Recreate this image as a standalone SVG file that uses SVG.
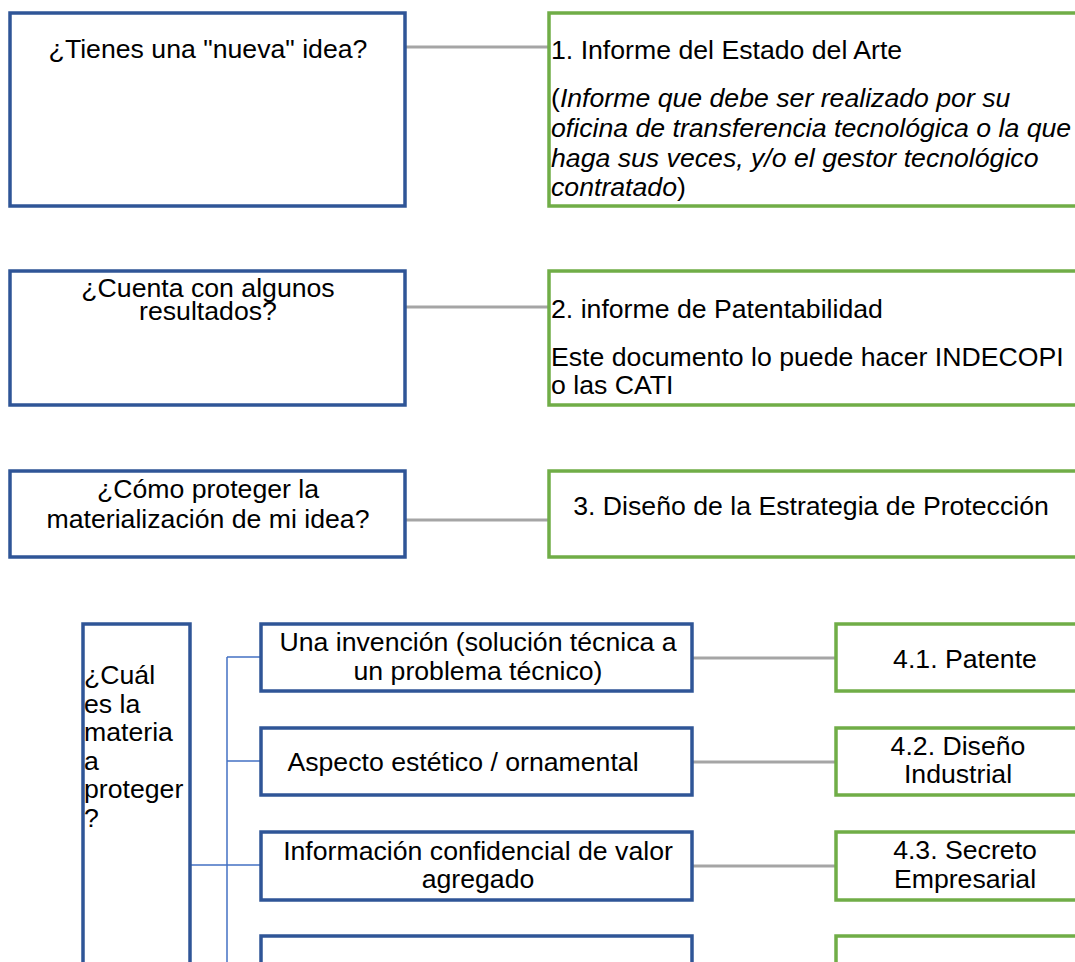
<svg xmlns="http://www.w3.org/2000/svg" width="1075" height="962" viewBox="0 0 1075 962">
<style>
.q{fill:#fff;stroke:#2F5597;stroke-width:3.5}
.a{fill:#fff;stroke:#70AD47;stroke-width:3.5}
.g{stroke:#A5A5A5;stroke-width:3;fill:none}
.b{stroke:#4472C4;stroke-width:1.5;fill:none}
text{font-family:"Liberation Sans",Arial,sans-serif;font-size:26.67px;fill:#000}
.c{text-anchor:middle}
.i{font-style:italic}
</style>
<rect width="1075" height="962" fill="#fff"/>
<g id="connectors">
<line class="g" x1="405" y1="47" x2="549" y2="47"/>
<line class="g" x1="405" y1="307" x2="549" y2="307"/>
<line class="g" x1="405" y1="520" x2="549" y2="520"/>
<line class="g" x1="692" y1="658" x2="836" y2="658"/>
<line class="g" x1="692" y1="762" x2="836" y2="762"/>
<line class="g" x1="692" y1="866" x2="836" y2="866"/>
<path class="b" d="M227,657 V962 M227,657 H261 M227,761 H261 M190,865 H261"/>
</g>
<g id="q1"><rect class="q" x="10" y="13" width="395" height="193"/>
<text class="c" x="208" y="58">¿Tienes una "nueva" idea?</text></g>
<g id="a1"><rect class="a" x="549" y="13" width="560" height="193"/>
<text x="551" y="59">1. Informe del Estado del Arte</text>
<text x="551" y="107">(<tspan class="i">Informe que debe ser realizado por su</tspan></text>
<text x="551" y="137" class="i">oficina de transferencia tecnológica o la que</text>
<text x="551" y="167" class="i">haga sus veces, y/o el gestor tecnológico</text>
<text x="551" y="196"><tspan class="i">contratado</tspan>)</text></g>
<g id="q2"><rect class="q" x="10" y="271" width="395" height="134"/>
<text class="c" x="208" y="297">¿Cuenta con algunos</text>
<text class="c" x="208" y="320">resultados?</text></g>
<g id="a2"><rect class="a" x="549" y="271" width="560" height="134"/>
<text x="551" y="318">2. informe de Patentabilidad</text>
<text x="551" y="366">Este documento lo puede hacer INDECOPI</text>
<text x="551" y="394">o las CATI</text></g>
<g id="q3"><rect class="q" x="10" y="471" width="395" height="86"/>
<text class="c" x="208" y="498">¿Cómo proteger la</text>
<text class="c" x="208" y="528">materialización de mi idea?</text></g>
<g id="a3"><rect class="a" x="549" y="471" width="560" height="86"/>
<text class="c" x="811" y="515">3. Diseño de la Estrategia de Protección</text></g>
<g id="q4"><rect class="q" x="83" y="624" width="107" height="420"/>
<text x="84" y="684">¿Cuál</text>
<text x="84" y="712.5">es la</text>
<text x="84" y="741">materia</text>
<text x="84" y="769.5">a</text>
<text x="84" y="798">proteger</text>
<text x="84" y="826.5">?</text></g>
<g id="m1"><rect class="q" x="261" y="624" width="431" height="67"/>
<text class="c" x="478" y="651">Una invención (solución técnica a</text>
<text class="c" x="478" y="680">un problema técnico)</text></g>
<g id="m2"><rect class="q" x="261" y="728" width="431" height="67"/>
<text class="c" x="463" y="771">Aspecto estético / ornamental</text></g>
<g id="m3"><rect class="q" x="261" y="832" width="431" height="68"/>
<text class="c" x="478" y="860">Información confidencial de valor</text>
<text class="c" x="478" y="888">agregado</text></g>
<g id="m4"><rect class="q" x="261" y="936" width="431" height="68"/></g>
<g id="r1"><rect class="a" x="836" y="624" width="260" height="67"/>
<text class="c" x="965" y="668">4.1. Patente</text></g>
<g id="r2"><rect class="a" x="836" y="728" width="260" height="67"/>
<text class="c" x="958" y="755">4.2. Diseño</text>
<text class="c" x="958" y="783">Industrial</text></g>
<g id="r3"><rect class="a" x="836" y="832" width="260" height="68"/>
<text class="c" x="965" y="859">4.3. Secreto</text>
<text class="c" x="965" y="888">Empresarial</text></g>
<g id="r4"><rect class="a" x="836" y="936" width="260" height="68"/></g>
</svg>
